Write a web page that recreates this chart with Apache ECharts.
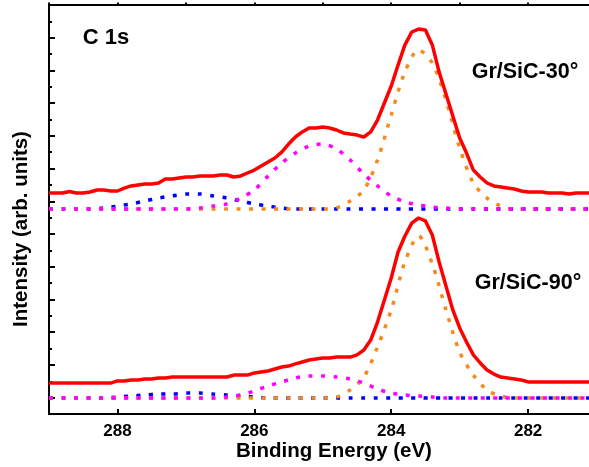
<!DOCTYPE html>
<html>
<head>
<meta charset="utf-8">
<script src="https://cdn.jsdelivr.net/npm/echarts@6/dist/echarts.min.js"></script>
<style>
  html, body { margin: 0; padding: 0; background: #fff; }
  #xps { width: 589px; height: 467px; }
</style>
</head>
<body>
<div id="xps"></div>
<script>
  // 能量轴 (eV)，红线 0.1 步长，分峰 0.2 步长
  var eFine = [289.0, 288.9, 288.8, 288.7, 288.6, 288.5, 288.4, 288.3, 288.2, 288.1,
    288.0, 287.9, 287.8, 287.7, 287.6, 287.5, 287.4, 287.3, 287.2, 287.1,
    287.0, 286.9, 286.8, 286.7, 286.6, 286.5, 286.4, 286.3, 286.2, 286.1,
    286.0, 285.9, 285.8, 285.7, 285.6, 285.5, 285.4, 285.3, 285.2, 285.1,
    285.0, 284.9, 284.8, 284.7, 284.6, 284.5, 284.4, 284.3, 284.2, 284.1,
    284.0, 283.9, 283.8, 283.7, 283.6, 283.5, 283.4, 283.3, 283.2, 283.1,
    283.0, 282.9, 282.8, 282.7, 282.6, 282.5, 282.4, 282.3, 282.2, 282.1,
    282.0, 281.9, 281.8, 281.7, 281.6, 281.5, 281.4, 281.3, 281.2, 281.1];
  var eFit = [289.0, 288.8, 288.6, 288.4, 288.2, 288.0, 287.8, 287.6, 287.4, 287.2,
    287.0, 286.8, 286.6, 286.4, 286.2, 286.0, 285.8, 285.6, 285.4, 285.2,
    285.0, 284.8, 284.6, 284.4, 284.2, 284.0, 283.8, 283.6, 283.4, 283.2,
    283.0, 282.8, 282.6, 282.4, 282.2, 282.0, 281.8, 281.6, 281.4, 281.2, 281.0];

  // Gr/SiC-30° (上)
  var raw30 = [13.51, 13.51, 13.51, 13.60, 13.51, 13.51, 13.57, 13.69, 13.69, 13.63,
    13.63, 13.81, 13.94, 14.00, 14.06, 14.06, 14.12, 14.36, 14.36, 14.43,
    14.49, 14.49, 14.55, 14.55, 14.55, 14.61, 14.61, 14.49, 14.55, 14.73,
    14.91, 15.16, 15.40, 15.65, 16.01, 16.50, 16.93, 17.24, 17.48, 17.48,
    17.54, 17.48, 17.36, 17.18, 17.11, 17.05, 16.93, 17.24, 17.97, 19.01,
    20.05, 21.33, 22.56, 23.35, 23.53, 23.47, 22.56, 20.90, 19.56, 18.22,
    16.87, 15.95, 14.91, 14.49, 14.12, 13.94, 13.88, 13.81, 13.75, 13.63,
    13.57, 13.57, 13.57, 13.51, 13.51, 13.51, 13.45, 13.51, 13.51, 13.51];
  var blue30 = [12.53, 12.53, 12.53, 12.53, 12.59, 12.71, 12.84, 13.02, 13.20, 13.33,
    13.45, 13.45, 13.33, 13.20, 13.02, 12.84, 12.71, 12.59, 12.53, 12.53,
    12.53, 12.53, 12.53, 12.53, 12.53, 12.53, 12.53, 12.53, 12.53, 12.53,
    12.53, 12.53, 12.53, 12.53, 12.53, 12.53, 12.53, 12.53, 12.53, 12.53, 12.53];
  var pink30 = [12.53, 12.53, 12.53, 12.53, 12.53, 12.53, 12.53, 12.53, 12.53, 12.53,
    12.53, 12.59, 12.71, 12.84, 13.20, 13.69, 14.55, 15.34, 15.95, 16.38,
    16.50, 16.20, 15.53, 14.67, 13.94, 13.33, 12.96, 12.78, 12.65, 12.59,
    12.53, 12.53, 12.53, 12.53, 12.53, 12.53, 12.53, 12.53, 12.53, 12.53, 12.53];
  var orange30 = [12.53, 12.53, 12.53, 12.53, 12.53, 12.53, 12.53, 12.53, 12.53, 12.53,
    12.53, 12.53, 12.53, 12.53, 12.53, 12.53, 12.53, 12.53, 12.53, 12.53,
    12.53, 12.60, 13.02, 13.69, 15.53, 18.28, 20.90, 22.25, 21.45, 19.19,
    16.26, 14.12, 13.20, 12.71, 12.53, 12.53, 12.53, 12.53, 12.53, 12.53, 12.53];

  // Gr/SiC-90° (下)
  var raw90 = [1.89, 1.89, 1.89, 1.89, 1.89, 1.89, 1.89, 1.89, 1.89, 1.89,
    2.02, 2.02, 2.08, 2.08, 2.14, 2.14, 2.20, 2.20, 2.26, 2.26,
    2.26, 2.26, 2.26, 2.26, 2.26, 2.26, 2.26, 2.38, 2.38, 2.38,
    2.51, 2.57, 2.63, 2.75, 2.87, 2.93, 3.06, 3.18, 3.30, 3.36,
    3.42, 3.42, 3.48, 3.48, 3.48, 3.61, 3.91, 4.52, 5.62, 6.97,
    8.31, 9.90, 10.88, 11.67, 11.98, 11.80, 10.94, 9.29, 7.82, 6.36,
    5.26, 4.40, 3.61, 3.12, 2.69, 2.44, 2.26, 2.20, 2.14, 2.08,
    1.96, 1.96, 1.96, 1.96, 1.96, 1.96, 1.96, 1.96, 1.96, 1.96];
  var blue90 = [0.98, 0.98, 0.98, 0.98, 0.98, 1.04, 1.10, 1.16, 1.22, 1.22,
    1.28, 1.28, 1.22, 1.16, 1.10, 1.04, 0.98, 0.98, 0.98, 0.98,
    0.98, 0.98, 0.98, 0.98, 0.98, 0.98, 0.98, 0.98, 0.98, 0.98,
    0.98, 0.98, 0.98, 0.98, 0.98, 0.98, 0.98, 0.98, 0.98, 0.98, 0.98];
  var pink90 = [0.98, 0.98, 0.98, 0.98, 0.98, 0.98, 0.98, 0.98, 0.98, 0.98,
    0.98, 0.98, 0.98, 1.04, 1.16, 1.41, 1.71, 1.96, 2.20, 2.32,
    2.32, 2.26, 2.14, 1.89, 1.53, 1.28, 1.16, 1.10, 1.04, 0.98,
    0.98, 0.98, 0.98, 0.98, 0.98, 0.98, 0.98, 0.98, 0.98, 0.98, 0.98];
  var orange90 = [0.98, 0.98, 0.98, 0.98, 0.98, 0.98, 0.98, 0.98, 0.98, 0.98,
    0.98, 0.98, 0.98, 0.98, 0.98, 0.98, 0.98, 0.98, 0.98, 0.98,
    0.98, 1.04, 1.47, 2.26, 4.10, 6.36, 9.29, 10.88, 9.17, 6.36,
    3.79, 2.38, 1.47, 1.10, 0.98, 0.98, 0.98, 0.98, 0.98, 0.98, 0.98];

  var xMin = 280, xMax = 289;
  var yMin = 0, yMax = 25;
  var font = "'Liberation Sans', Arial, sans-serif";

  function pairs(xs, ys) {
    return xs.map(function (x, i) { return [x, ys[i]]; });
  }

  function solid(data) {
    return {
      type: 'line', data: data, showSymbol: false, z: 5,
      lineStyle: { color: '#ff0000', width: 3.5 }
    };
  }

  function dotted(data, color, z) {
    return {
      type: 'line', data: data, showSymbol: false, smooth: 0.3, z: z,
      lineStyle: { color: color, width: 3.5, type: [4, 8.5], cap: 'butt' }
    };
  }

  function label(text, x, y, size, rotation) {
    return {
      type: 'text', x: x, y: y, rotation: rotation || 0,
      style: {
        text: text, fill: '#000', fontSize: size, fontWeight: 'bold', fontFamily: font,
        textAlign: 'center', textVerticalAlign: 'middle'
      }
    };
  }

  var chart = echarts.init(document.getElementById('xps'));
  var option = {
    animation: false,
    backgroundColor: '#fff',
    grid: {
      // 右边框在画面外，281 以下被裁掉
      left: 49, top: 5, bottom: 53, right: -76,
      outerBoundsMode: 'none', containLabel: false,
      show: true, borderColor: '#000', borderWidth: 2
    },
    xAxis: [
      {
        type: 'value', min: xMin, max: xMax, interval: 2, inverse: true, position: 'bottom',
        axisLine: { lineStyle: { color: '#000', width: 2 } },
        axisTick: { inside: true, length: 5, lineStyle: { color: '#000', width: 2 } },
        axisLabel: {
          color: '#000', fontSize: 17, fontWeight: 'bold', fontFamily: font, margin: 9,
          showMinLabel: false, showMaxLabel: false
        },
        splitLine: { show: false }
      },
      {
        type: 'value', min: xMin, max: xMax, interval: 1, inverse: true, position: 'bottom',
        axisLine: { show: false },
        axisTick: { inside: true, length: 2.5, lineStyle: { color: '#000', width: 2 } },
        axisLabel: { show: false },
        splitLine: { show: false }
      }
    ],
    yAxis: [
      {
        type: 'value', min: yMin, max: yMax,
        axisLine: { show: false }, axisTick: { show: false },
        axisLabel: { show: false }, splitLine: { show: false }
      },
      {
        // 刻度从顶部往下数，主刻度落在奇数格
        type: 'value', min: yMin, max: yMax, interval: 2, inverse: true, position: 'left',
        axisLine: { lineStyle: { color: '#000', width: 2 } },
        axisTick: { inside: true, length: 6, lineStyle: { color: '#000', width: 2 } },
        axisLabel: { show: false }, splitLine: { show: false }
      },
      {
        type: 'value', min: yMin, max: yMax, interval: 1, inverse: true, position: 'left',
        axisLine: { show: false },
        axisTick: { inside: true, length: 3, lineStyle: { color: '#000', width: 2 } },
        axisLabel: { show: false }, splitLine: { show: false }
      }
    ],
    graphic: [
      label('Binding Energy (eV)', 334, 451, 20.5),
      label('Intensity (arb. units)', 21, 229, 20.5, Math.PI / 2),
      label('C 1s', 106, 38, 22),
      label('Gr/SiC-30°', 525, 72, 21.5),
      label('Gr/SiC-90°', 528, 283, 21.5)
    ],
    series: [
      dotted(pairs(eFit, blue30), '#0000ff', 2),
      dotted(pairs(eFit, pink30), '#ff00ff', 3),
      dotted(pairs(eFit, orange30), '#f58a1f', 2),
      solid(pairs(eFine, raw30)),
      dotted(pairs(eFit, blue90), '#0000ff', 2),
      dotted(pairs(eFit, pink90), '#ff00ff', 3),
      dotted(pairs(eFit, orange90), '#f58a1f', 2),
      solid(pairs(eFine, raw90))
    ]
  };
  chart.setOption(option);
</script>
</body>
</html>
